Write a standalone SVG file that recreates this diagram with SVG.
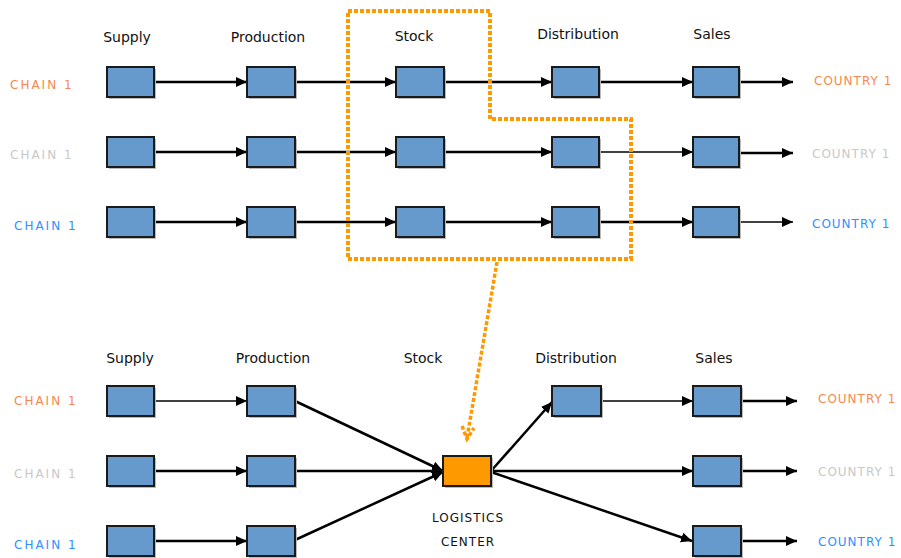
<svg xmlns="http://www.w3.org/2000/svg" width="901" height="558" viewBox="0 0 901 558">
<style>
.box{fill:#6699cc;stroke:#1a1a1a;stroke-width:2}
.sh{fill:#bbbbbb}
.lc{fill:#ff9900;stroke:#1a1a1a;stroke-width:2}
.hd{font-family:"DejaVu Sans",sans-serif;font-size:14px;fill:#111;text-anchor:middle}
.lb{font-family:"DejaVu Sans",sans-serif;font-size:12px;letter-spacing:2px}
.ct{font-family:"DejaVu Sans",sans-serif;font-size:12px;letter-spacing:1px}
.or{fill:#f7884f}.gr{fill:#c8c8c8}.bl{fill:#2f8fff}
.k{stroke:#000;stroke-width:2.5;fill:none;marker-end:url(#ah)}
.t{stroke:#000;stroke-width:1.3;fill:none;marker-end:url(#ah)}
.dot{stroke:#ff9900;stroke-width:4;fill:none;stroke-dasharray:4 2}
.dot2{stroke:#ff9900;stroke-width:3.5;fill:none;stroke-dasharray:4 2}
</style>
<defs>
<marker id="ah" markerUnits="userSpaceOnUse" markerWidth="12" markerHeight="12" viewBox="0 0 12 12" refX="11" refY="6" orient="auto">
<path d="M0,1 L11,6 L0,11 Z" fill="#000"/>
</marker>
</defs>
<rect width="901" height="558" fill="#fff"/>
<g id="headers">
<text class="hd" x="127" y="42">Supply</text>
<text class="hd" x="268" y="42">Production</text>
<text class="hd" x="414" y="41">Stock</text>
<text class="hd" x="578" y="39">Distribution</text>
<text class="hd" x="712" y="39">Sales</text>
<text class="hd" x="130" y="363">Supply</text>
<text class="hd" x="273" y="363">Production</text>
<text class="hd" x="423" y="363">Stock</text>
<text class="hd" x="576" y="363">Distribution</text>
<text class="hd" x="714" y="363">Sales</text>
</g>
<g id="labels">
<text class="lb or" x="10" y="89">CHAIN 1</text>
<text class="lb gr" x="10" y="159">CHAIN 1</text>
<text class="lb bl" x="14" y="230">CHAIN 1</text>
<text class="ct or" x="814" y="85">COUNTRY 1</text>
<text class="ct gr" x="812" y="158">COUNTRY 1</text>
<text class="ct bl" x="812" y="228">COUNTRY 1</text>
<text class="lb or" x="14" y="405">CHAIN 1</text>
<text class="lb gr" x="14" y="478">CHAIN 1</text>
<text class="lb bl" x="14" y="549">CHAIN 1</text>
<text class="ct or" x="818" y="403">COUNTRY 1</text>
<text class="ct gr" x="818" y="476">COUNTRY 1</text>
<text class="ct bl" x="818" y="546">COUNTRY 1</text>
</g>
<g id="connectors">
<line class="k" x1="154" y1="82" x2="247" y2="82"/>
<line class="k" x1="295" y1="82" x2="396" y2="82"/>
<line class="k" x1="444" y1="82" x2="552" y2="82"/>
<line class="k" x1="599" y1="82" x2="693" y2="82"/>
<line class="k" x1="739" y1="82" x2="793" y2="82"/>
<line class="k" x1="154" y1="152" x2="247" y2="152"/>
<line class="k" x1="295" y1="152" x2="396" y2="152"/>
<line class="k" x1="444" y1="152" x2="552" y2="152"/>
<line class="t" x1="599" y1="152" x2="693" y2="152"/>
<line class="k" x1="739" y1="153" x2="793" y2="153"/>
<line class="k" x1="154" y1="222" x2="247" y2="222"/>
<line class="k" x1="295" y1="222" x2="396" y2="222"/>
<line class="k" x1="444" y1="222" x2="552" y2="222"/>
<line class="k" x1="599" y1="222" x2="693" y2="222"/>
<line class="t" x1="739" y1="222" x2="793" y2="222"/>
<line class="t" x1="154" y1="401" x2="247" y2="401"/>
<line class="k" x1="154" y1="471" x2="247" y2="471"/>
<line class="k" x1="154" y1="541" x2="247" y2="541"/>
<line class="k" x1="295" y1="401" x2="443" y2="471"/>
<line class="k" x1="295" y1="471" x2="443" y2="471"/>
<line class="k" x1="295" y1="540" x2="443" y2="472"/>
<line class="k" x1="491" y1="471" x2="552" y2="402"/>
<line class="k" x1="491" y1="471" x2="693" y2="471"/>
<line class="k" x1="491" y1="472" x2="692" y2="541"/>
<line class="t" x1="601" y1="401" x2="693" y2="401"/>
<line class="k" x1="741" y1="401" x2="797" y2="401"/>
<line class="k" x1="741" y1="471" x2="797" y2="471"/>
<line class="k" x1="741" y1="541" x2="797" y2="541"/>
</g>
<g id="stock-frame">
<path class="dot" d="M348,11 H490 V119 H631 V259 H348 Z"/>
<path class="dot2" d="M497,262 L467,438"/>
<path class="dot2" d="M462,426 L467,439 L474,428"/>
</g>
<g id="boxes-top">
<rect class="sh" x="109" y="69" width="47" height="30"/><rect class="box" x="107" y="67" width="47" height="30"/>
<rect class="sh" x="249" y="69" width="48" height="30"/><rect class="box" x="247" y="67" width="48" height="30"/>
<rect class="sh" x="398" y="69" width="48" height="30"/><rect class="box" x="396" y="67" width="48" height="30"/>
<rect class="sh" x="554" y="69" width="47" height="30"/><rect class="box" x="552" y="67" width="47" height="30"/>
<rect class="sh" x="695" y="69" width="46" height="30"/><rect class="box" x="693" y="67" width="46" height="30"/>
<rect class="sh" x="109" y="139" width="47" height="30"/><rect class="box" x="107" y="137" width="47" height="30"/>
<rect class="sh" x="249" y="139" width="48" height="30"/><rect class="box" x="247" y="137" width="48" height="30"/>
<rect class="sh" x="398" y="139" width="48" height="30"/><rect class="box" x="396" y="137" width="48" height="30"/>
<rect class="sh" x="554" y="139" width="47" height="30"/><rect class="box" x="552" y="137" width="47" height="30"/>
<rect class="sh" x="695" y="139" width="46" height="30"/><rect class="box" x="693" y="137" width="46" height="30"/>
<rect class="sh" x="109" y="209" width="47" height="30"/><rect class="box" x="107" y="207" width="47" height="30"/>
<rect class="sh" x="249" y="209" width="48" height="30"/><rect class="box" x="247" y="207" width="48" height="30"/>
<rect class="sh" x="398" y="209" width="48" height="30"/><rect class="box" x="396" y="207" width="48" height="30"/>
<rect class="sh" x="554" y="209" width="47" height="30"/><rect class="box" x="552" y="207" width="47" height="30"/>
<rect class="sh" x="695" y="209" width="46" height="30"/><rect class="box" x="693" y="207" width="46" height="30"/>
</g>
<g id="boxes-bottom">
<rect class="sh" x="109" y="388" width="47" height="30"/><rect class="box" x="107" y="386" width="47" height="30"/>
<rect class="sh" x="249" y="388" width="48" height="30"/><rect class="box" x="247" y="386" width="48" height="30"/>
<rect class="sh" x="554" y="388" width="49" height="30"/><rect class="box" x="552" y="386" width="49" height="30"/>
<rect class="sh" x="695" y="388" width="48" height="30"/><rect class="box" x="693" y="386" width="48" height="30"/>
<rect class="sh" x="109" y="458" width="47" height="30"/><rect class="box" x="107" y="456" width="47" height="30"/>
<rect class="sh" x="249" y="458" width="48" height="30"/><rect class="box" x="247" y="456" width="48" height="30"/>
<rect class="sh" x="695" y="458" width="48" height="30"/><rect class="box" x="693" y="456" width="48" height="30"/>
<rect class="sh" x="109" y="528" width="47" height="30"/><rect class="box" x="107" y="526" width="47" height="30"/>
<rect class="sh" x="249" y="528" width="48" height="30"/><rect class="box" x="247" y="526" width="48" height="30"/>
<rect class="sh" x="695" y="528" width="48" height="30"/><rect class="box" x="693" y="526" width="48" height="30"/>
</g>
<g id="logistics-center">
<rect class="sh" x="445" y="458" width="48" height="30"/><rect class="lc" x="443" y="456" width="48" height="30"/>
<text class="ct" x="468" y="522" text-anchor="middle" fill="#111" letter-spacing="1.5">LOGISTICS</text>
<text class="ct" x="468" y="546" text-anchor="middle" fill="#111">CENTER</text>
</g>
</svg>
